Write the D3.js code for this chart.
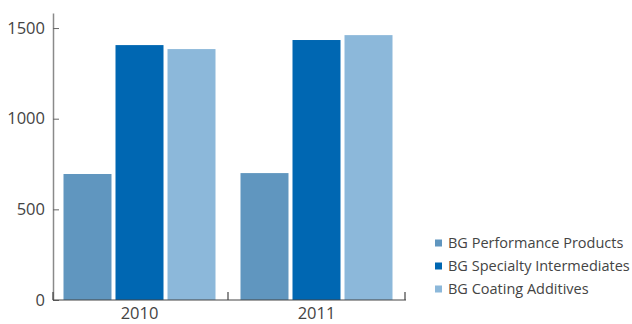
<!DOCTYPE html>
<html>
<head>
    <meta charset="utf-8">
    <title>Sales by business group</title>
    <script src="https://cdn.jsdelivr.net/npm/d3@7"></script>
    <style>
        body {
            margin: 0;
            background: #fff;
        }
        text {
            font-family: "Open Sans", sans-serif;
            fill: #444;
        }
    </style>
</head>
<body>
    <div id="chart"></div>
    <script>
        const years = ["2010", "2011"];
        const groups = ["BG Performance Products", "BG Specialty Intermediates", "BG Coating Additives"];
        const performance = [695, 700];
        const specialty = [1406, 1434];
        const coating = [1384, 1461];
        const colors = ["#6096bf", "#0067b2", "#8cb8da"];
        const yTicks = [0, 500, 1000, 1500];

        const width = 632;
        const height = 324;

        const svg = d3.select("#chart")
            .append("svg")
            .attr("width", width)
            .attr("height", height);

        const series = [performance, specialty, coating];

        const x0 = d3.scaleBand().domain(years).range([51, 405]);
        const x1 = d3.scaleBand().domain(groups)
            .range([12.5, x0.bandwidth() - 12.5])
            .paddingInner(0.077);
        const y = d3.scaleLinear().domain([0, 1583]).range([300, 13]);

        // bars
        years.forEach((yr, i) => {
            const g = svg.append("g").attr("transform", `translate(${x0(yr)},0)`);
            groups.forEach((grp, j) => {
                g.append("rect")
                    .attr("x", x1(grp))
                    .attr("y", y(series[j][i]))
                    .attr("width", x1.bandwidth())
                    .attr("height", y(0) - y(series[j][i]))
                    .attr("fill", colors[j]);
            });
        });

        // y axis
        const yAxis = svg.append("g")
            .attr("transform", "translate(53,0)")
            .call(d3.axisLeft(y).tickValues(yTicks).tickFormat(d3.format("d"))
                .tickSizeInner(-6).tickSizeOuter(0).tickPadding(8));
        yAxis.select(".domain").attr("stroke", "#8a8a8a").attr("stroke-width", 1.5);
        yAxis.selectAll(".tick line").attr("stroke", "#666");
        yAxis.selectAll("text").style("font-size", "16.5px").attr("fill", "#444");

        // x axis
        const xAxis = svg.append("g")
            .attr("transform", "translate(0,300)")
            .call(d3.axisBottom(x0).tickSize(0).tickPadding(7));
        xAxis.select(".domain").remove();
        xAxis.selectAll("text").style("font-size", "16.5px").attr("fill", "#444");

        svg.append("line")
            .attr("x1", 53).attr("x2", x0.range()[1] + 1)
            .attr("y1", 300).attr("y2", 300)
            .attr("stroke", "#444").attr("stroke-width", 1.2);

        const bounds = [53].concat(years.map(yr => x0(yr) + x0.bandwidth()));
        svg.selectAll(".xtick")
            .data(bounds)
            .enter()
            .append("line")
            .attr("class", "xtick")
            .attr("x1", d => d).attr("x2", d => d)
            .attr("y1", 292).attr("y2", 300)
            .attr("stroke", "#444").attr("stroke-width", 1.2);

        // legend
        const legend = svg.append("g").attr("transform", "translate(435,243)");
        groups.forEach((grp, j) => {
            const row = legend.append("g").attr("transform", `translate(0,${j * 23})`);
            row.append("rect")
                .attr("x", 0).attr("y", -3.5)
                .attr("width", 7).attr("height", 7)
                .attr("fill", colors[j]);
            row.append("text")
                .attr("x", 13)
                .attr("dy", "0.35em")
                .style("font-size", "14.5px")
                .text(grp);
        });
    </script>
</body>
</html>
